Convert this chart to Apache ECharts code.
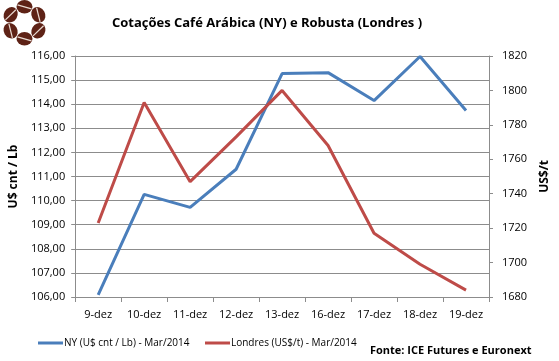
<!DOCTYPE html>
<html><head><meta charset="utf-8">
<script src="https://cdn.jsdelivr.net/npm/echarts@6/dist/echarts.min.js"></script>
<style>html,body{margin:0;padding:0;background:#fff;}#c{width:559px;height:361px;}</style>
</head><body><div id="c"></div>
<script>
const categories = ['9-dez','10-dez','11-dez','12-dez','13-dez','16-dez','17-dez','18-dez','19-dez'];
const nyValues = [106.09, 110.26, 109.72, 111.30, 115.27, 115.31, 114.15, 115.98, 113.74];
const londresValues = [1723, 1793, 1747, 1773, 1800, 1768, 1717, 1699, 1684];
const nyName = 'NY (U$ cnt / Lb) - Mar/2014';
const londresName = 'Londres (US$/t) - Mar/2014';
const titleText = 'Cotações Café Arábica (NY) e Robusta (Londres )';
const sourceText = 'Fonte: ICE Futures e Euronext';

const FONT = 'Open Sans';
const axisGray = '#8c8c8c';

// logo beans
const beanColor = '#5e2216';
const beans = [];
const cx = 23, cy = 24, R = 16;
for (let i = 0; i < 6; i++) {
  const a = -Math.PI/2 + i*Math.PI/3;
  const x = cx + R*Math.cos(a), y = cy + R*Math.sin(a);
  beans.push({type:'group', x:x, y:y, rotation:-(a+Math.PI/2), children:[
    {type:'circle', shape:{cx:0, cy:0, r:8}, scaleX:1, scaleY:0.85, style:{fill:beanColor}},
    {type:'line', shape:{x1:-7, y1:-2, x2:7, y2:2}, style:{stroke:'#eadbd2', lineWidth:1.2}}
  ]});
}

const chart = echarts.init(document.getElementById('c'));
chart.setOption({
  animation:false,
  textStyle:{fontFamily:FONT},
  title:{text:titleText, left:262, top:12, textAlign:'center',
    textStyle:{fontFamily:FONT, fontSize:13, fontWeight:'bold', color:'#000'}},
  legend:[
    {left:38, top:338, padding:0, itemWidth:25, itemHeight:3, itemGap:0, icon:'rect',
     textStyle:{fontFamily:FONT, fontSize:10, color:'#000', padding:[0,0,0,-4]}, data:[nyName]},
    {left:205, top:338, padding:0, itemWidth:25, itemHeight:3, itemGap:0, icon:'rect',
     textStyle:{fontFamily:FONT, fontSize:10, color:'#000', padding:[0,0,0,-4]}, data:[londresName]}
  ],
  grid:{left:66, right:70, top:56, bottom:64},
  xAxis:{type:'category', data:categories, boundaryGap:true,
    axisLine:{lineStyle:{color:axisGray}},
    axisTick:{show:true, length:5, lineStyle:{color:axisGray}},
    axisLabel:{color:'#000', fontSize:11, margin:12}},
  yAxis:[
    {type:'value', min:106, max:116, interval:1, position:'left',
     name:'U$ cnt / Lb', nameLocation:'middle', nameRotate:90, nameGap:50,
     nameTextStyle:{fontFamily:FONT, fontSize:12, fontWeight:'bold', color:'#000'},
     axisLine:{show:true, lineStyle:{color:axisGray}},
     axisTick:{show:true, inside:false, length:4, lineStyle:{color:axisGray}},
     splitLine:{show:true, lineStyle:{color:axisGray, width:1}},
     axisLabel:{color:'#000', fontSize:11, margin:10, formatter:v=>v.toFixed(2).replace('.',',')}},
    {type:'value', min:1680, max:1820, interval:20, position:'right',
     name:'US$/t', nameLocation:'middle', nameRotate:90, nameGap:50,
     nameTextStyle:{fontFamily:FONT, fontSize:12, fontWeight:'bold', color:'#000'},
     axisLine:{show:true, lineStyle:{color:axisGray}},
     axisTick:{show:true, length:4, lineStyle:{color:axisGray}},
     splitLine:{show:false},
     axisLabel:{color:'#000', fontSize:11, margin:13, formatter:v=>String(v)}}
  ],
  series:[
    {name:nyName, type:'line', yAxisIndex:0, data:nyValues, showSymbol:false, symbol:'none',
     lineStyle:{color:'#4a7ebb', width:3}, itemStyle:{color:'#4a7ebb'}},
    {name:londresName, type:'line', yAxisIndex:1, data:londresValues, showSymbol:false, symbol:'none',
     lineStyle:{color:'#be4b48', width:3}, itemStyle:{color:'#be4b48'}}
  ],
  graphic:[
    {type:'group', left:0, top:0, children:beans},
    {type:'text', left:370, top:345, style:{text:sourceText, fontFamily:FONT, fontSize:11, fontWeight:'bold', fill:'#000'}}
  ]
});
</script></body></html>
